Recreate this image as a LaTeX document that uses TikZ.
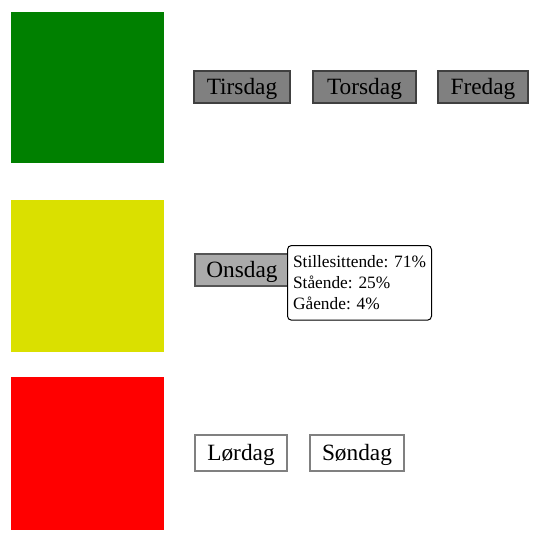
\documentclass[tikz,border=0pt]{standalone}
\usepackage{fontspec}
\setmainfont{Liberation Serif}
\usetikzlibrary{positioning}

\definecolor{gronn}{RGB}{0,128,0}
\definecolor{gul}{RGB}{218,224,0}
\definecolor{rod}{RGB}{255,0,0}

\begin{document}
\begin{tikzpicture}[x=0.75pt,y=-0.75pt,
	dag/.style={draw, line width=1.5pt, minimum height=24pt, inner sep=0pt, text height=13pt, text depth=1.5pt, font=\fontsize{17.5}{20}\selectfont},
	mork/.style={dag, fill={rgb,255:red,128;green,128;blue,128}, draw={rgb,255:red,64;green,64;blue,64}},
	lys/.style={dag, fill={rgb,255:red,170;green,170;blue,170}, draw={rgb,255:red,85;green,85;blue,85}},
	tom/.style={dag, fill=white, draw={rgb,255:red,128;green,128;blue,128}, minimum height=27pt},
	tips/.style={draw, fill=white, rounded corners=3pt, line width=0.75pt, anchor=north west,
		minimum width=108pt, minimum height=56pt, inner sep=4pt, inner xsep=3pt, align=left,
		font=\fontsize{13}{15.75}\selectfont}]

	\useasboundingbox (0,0) rectangle (537,543);%ramme

	\fill [gronn] (11,12) rectangle (164,163);%gronn
	\fill [gul] (11,200) rectangle (164,352);%gul
	\fill [rod] (11,377) rectangle (164,530);%rod

	\node [mork, minimum width=72pt] (tirsdag) at (242,87) {Tirsdag};
	\node [mork, minimum width=77pt] (torsdag) at (364.5,87) {Torsdag};
	\node [mork, minimum width=67.5pt] (fredag) at (483,87) {Fredag};

	\node [lys, minimum width=72pt, text width=69pt, align=left] (onsdag) at (243,270) {\hspace{7pt}Onsdag};
	\node [tips] (info) at (287,245) {Stillesittende: 71\%\\Stående: 25\%\\Gående: 4\%};%tooltip

	\node [tom, minimum width=69pt] (lordag) at (241,453) {Lørdag};
	\node [tom, minimum width=70.5pt] (sondag) at (357,453) {Søndag};
\end{tikzpicture}
\end{document}
